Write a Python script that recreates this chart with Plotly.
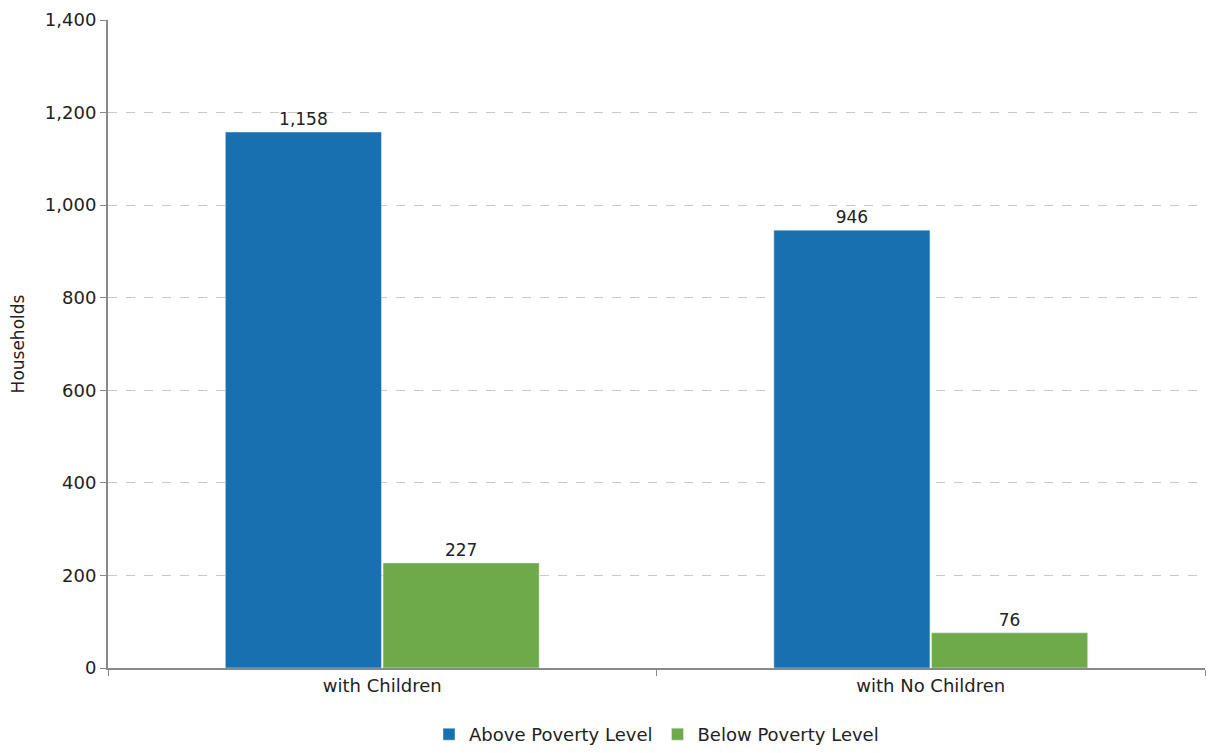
import plotly.graph_objects as go

categories = ["with Children", "with No Children"]
above = [1158, 946]
below = [227, 76]
series_names = ["Above Poverty Level", "Below Poverty Level"]

blue = "#1770B0"
green = "#6EAA4A"
font_family = "'DejaVu Sans', sans-serif"

fig = go.Figure()
fig.add_trace(go.Bar(
    x=categories, y=above, name=series_names[0], marker_color=blue,
    text=[f"{v:,}" for v in above], textposition="outside",
    textfont=dict(size=17, color="#222"), cliponaxis=False,
))
fig.add_trace(go.Bar(
    x=categories, y=below, name=series_names[1], marker_color=green,
    text=[f"{v:,}" for v in below], textposition="outside",
    textfont=dict(size=17, color="#222"), cliponaxis=False,
))

fig.update_layout(
    width=1221, height=745,
    margin=dict(l=100, r=24, t=12, b=85, autoexpand=False),
    paper_bgcolor="white", plot_bgcolor="white",
    barmode="group", bargap=0.425, bargroupgap=0.01,
    font=dict(family=font_family, size=17, color="#222"),
    legend=dict(orientation="h", x=0.5, xanchor="center",
                yref="container", y=0.0, yanchor="bottom",
                font=dict(size=18), itemwidth=30, traceorder="normal"),
    xaxis=dict(
        automargin=False,
        showline=True, linecolor="#888", linewidth=2,
        ticks="outside", tickson="boundaries", ticklen=6, tickcolor="#888",
        tickfont=dict(size=18),
    ),
    yaxis=dict(
        automargin=False,
        range=[0, 1400], dtick=200, tickformat=",",
        showline=True, linecolor="#888", linewidth=2,
        ticks="outside", ticklen=6, tickcolor="#888",
        showgrid=True, gridcolor="#c8c8c8", griddash="dash", gridwidth=1,
        zeroline=False,
        title=dict(text="Households", font=dict(size=17), standoff=18),
        tickfont=dict(size=18),
    ),
)

fig.write_html("out.html")
